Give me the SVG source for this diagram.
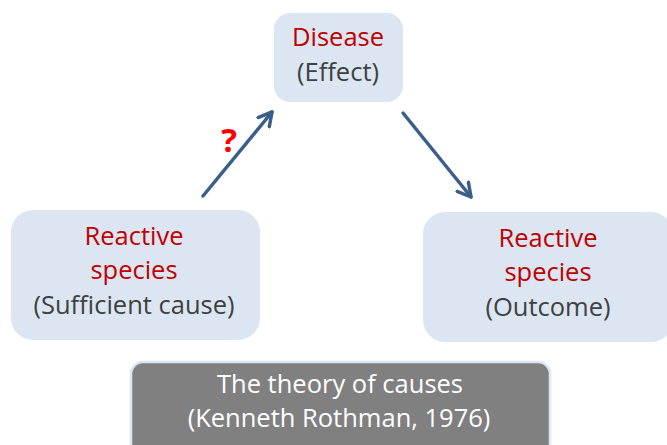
<svg xmlns="http://www.w3.org/2000/svg" width="667" height="445" viewBox="0 0 667 445">
<style>
.box{fill:#dce6f2;}
.t{font-family:"Open Sans","Noto Sans",sans-serif;font-size:25.5px;text-anchor:middle;}
.red{fill:#c00000;}
.grey{fill:#404040;}
.wh{fill:#ffffff;}
.conn{stroke:#3a5f8b;stroke-width:3.5;fill:none;stroke-linecap:round;}
</style>
<defs>
<marker id="ah" viewBox="0 0 12 12" refX="10" refY="6" markerWidth="5" markerHeight="5" orient="auto" markerUnits="strokeWidth">
<path d="M1,1 L10,6 L1,11" fill="none" stroke="#3a5f8b" stroke-width="2.4" stroke-linecap="round" stroke-linejoin="round"/>
</marker>
</defs>
<rect width="667" height="445" fill="#ffffff"/>
<g id="disease">
<rect class="box" x="274" y="13" width="129" height="89" rx="16"/>
<text class="t red" x="338" y="46">Disease</text>
<text class="t grey" x="338" y="81">(Effect)</text>
</g>
<g id="sufficient">
<rect class="box" x="11" y="210" width="249" height="130" rx="22"/>
<text class="t red" x="134" y="245">Reactive</text>
<text class="t red" x="134" y="279">species</text>
<text class="t grey" x="134" y="314">(Sufficient cause)</text>
</g>
<g id="outcome">
<rect class="box" x="423" y="212" width="250" height="130" rx="22"/>
<text class="t red" x="548" y="247">Reactive</text>
<text class="t red" x="548" y="281">species</text>
<text class="t grey" x="548" y="316">(Outcome)</text>
</g>
<g id="theory">
<rect x="131" y="362" width="419" height="100" rx="12" fill="#808080" stroke="#dce6f2" stroke-width="2.5"/>
<text class="t wh" x="340" y="393">The theory of causes</text>
<text class="t wh" x="339" y="427">(Kenneth Rothman, 1976)</text>
</g>
<g id="connectors">
<line class="conn" x1="203" y1="196" x2="272" y2="112" marker-end="url(#ah)"/>
<line class="conn" x1="403" y1="113" x2="471" y2="197" marker-end="url(#ah)"/>
</g>
<text x="229" y="152" font-family="'Open Sans','Noto Sans',sans-serif" font-size="33" font-weight="bold" fill="#ff0000" text-anchor="middle">?</text>
</svg>
